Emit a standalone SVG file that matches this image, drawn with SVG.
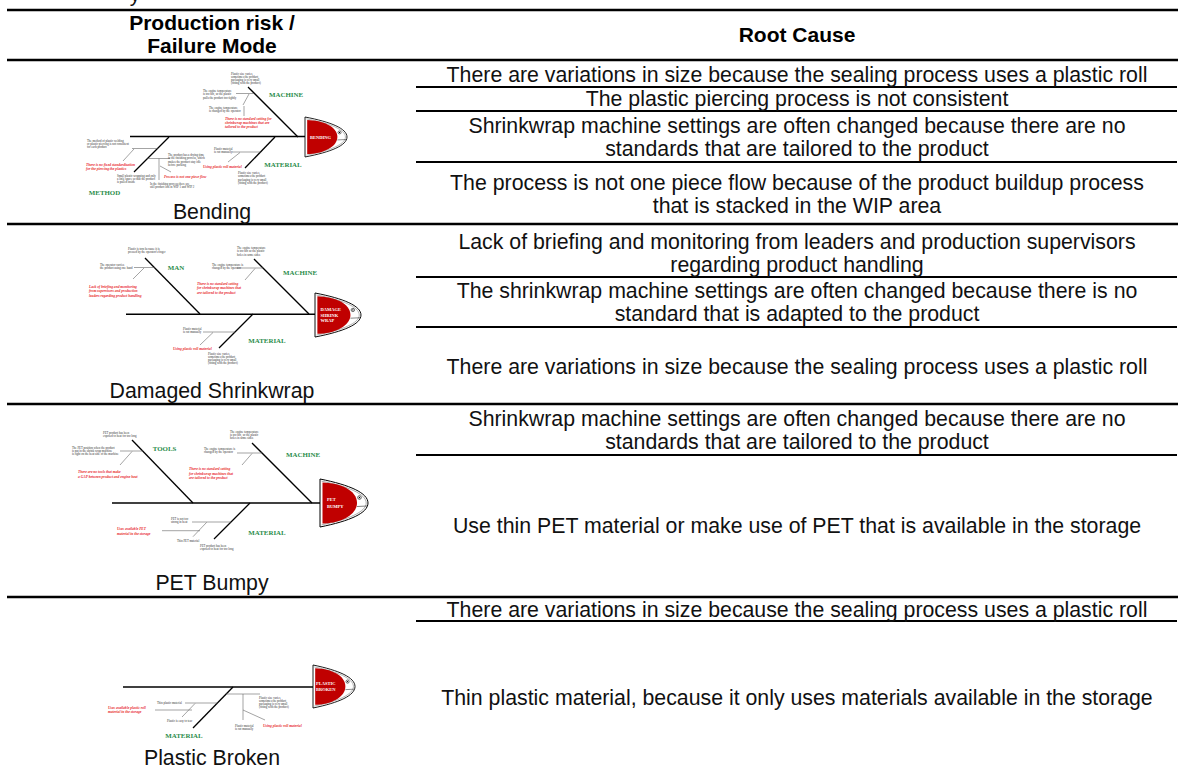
<svg xmlns="http://www.w3.org/2000/svg" xmlns:xlink="http://www.w3.org/1999/xlink" width="1178" height="767" viewBox="0 0 1178 767">
<style>
.hdr{font-family:"Liberation Sans",Arial,sans-serif;font-weight:bold;font-size:21px;text-anchor:middle;fill:#000}
.cell{font-family:"Liberation Sans",Arial,sans-serif;font-size:21.3px;text-anchor:middle;fill:#111}
.rule{stroke:#000;stroke-width:2.7}
.rule2{stroke:#000;stroke-width:2}
.spine{stroke:#000;stroke-width:1.6;fill:none}
.bone{stroke:#000;stroke-width:1.3}
.sub{stroke:#666;stroke-width:0.6}
.cat{font-family:"Liberation Serif","Times New Roman",serif;font-weight:bold;font-size:6.9px;fill:#2a8c4a;text-anchor:middle}
.note{font-family:"Liberation Serif","Times New Roman",serif;font-size:3px;fill:#333}
.red{font-family:"Liberation Serif","Times New Roman",serif;font-style:italic;font-weight:bold;font-size:3.6px;fill:#e8262a}
.ht{font-family:"Liberation Serif","Times New Roman",serif;font-weight:bold;font-size:4.5px;fill:#fff}
</style>
<defs>
<g id="fishhead">
<path d="M0,0 C30,6 48,14 48,24 C48,34 30,42 0,48 Z" fill="#fff" stroke="#000" stroke-width="1"/>
<path d="M1.6,2.2 C28,7.4 46.2,15 46.2,24 C46.2,33 28,40.6 1.6,45.8" fill="none" stroke="#999" stroke-width="0.8"/>
<path d="M2.5,3.5 C20,4 37,11 37,24 C37,36 20,44.5 2.5,44.5 Z" fill="#c00000"/>
<circle cx="39.5" cy="18.5" r="1.8" fill="#fff" stroke="#000" stroke-width="0.6"/>
<circle cx="39.5" cy="18.5" r="0.7" fill="#000"/>
<line x1="37" y1="27.5" x2="47" y2="27" stroke="#000" stroke-width="0.5"/>
</g>
</defs>
<rect width="1178" height="767" fill="#fff"/>
<text class="cell" x="135" y="1">y</text>

<g id="table-rules">
<line class="rule" x1="7" y1="10" x2="1178" y2="10"/>
<line class="rule" x1="7" y1="60" x2="1178" y2="60"/>
<line class="rule2" x1="416" y1="87" x2="1177" y2="87"/>
<line class="rule2" x1="416" y1="111" x2="1177" y2="111"/>
<line class="rule2" x1="416" y1="162" x2="1177" y2="162"/>
<line class="rule" x1="7" y1="224" x2="1178" y2="224"/>
<line class="rule2" x1="416" y1="277" x2="1177" y2="277"/>
<line class="rule2" x1="416" y1="327" x2="1177" y2="327"/>
<line class="rule" x1="7" y1="404" x2="1178" y2="404"/>
<line class="rule2" x1="416" y1="455" x2="1177" y2="455"/>
<line class="rule" x1="7" y1="597" x2="1178" y2="597"/>
<line class="rule2" x1="416" y1="621" x2="1177" y2="621"/>
</g>

<g id="header">
<text class="hdr" x="212" y="30">Production risk /</text>
<text class="hdr" x="212" y="53">Failure Mode</text>
<text class="hdr" x="797" y="42">Root Cause</text>
</g>

<g id="root-causes">
<text class="cell" x="797" y="81.5">There are variations in size because the sealing process uses a plastic roll</text>
<text class="cell" x="797" y="106">The plastic piercing process is not consistent</text>
<text class="cell" x="797" y="133">Shrinkwrap machine settings are often changed because there are no</text>
<text class="cell" x="797" y="156">standards that are tailored to the product</text>
<text class="cell" x="797" y="190">The process is not one piece flow because of the product buildup process</text>
<text class="cell" x="797" y="213">that is stacked in the WIP area</text>
<text class="cell" x="797" y="248.5">Lack of briefing and monitoring from leaders and production supervisors</text>
<text class="cell" x="797" y="271.5">regarding product handling</text>
<text class="cell" x="797" y="297.5">The shrinkwrap machine settings are often changed because there is no</text>
<text class="cell" x="797" y="320.5">standard that is adapted to the product</text>
<text class="cell" x="797" y="373.5">There are variations in size because the sealing process uses a plastic roll</text>
<text class="cell" x="797" y="425.5">Shrinkwrap machine settings are often changed because there are no</text>
<text class="cell" x="797" y="448.5">standards that are tailored to the product</text>
<text class="cell" x="797" y="532.5">Use thin PET material or make use of PET that is available in the storage</text>
<text class="cell" x="797" y="616.5">There are variations in size because the sealing process uses a plastic roll</text>
<text class="cell" x="797" y="704.5">Thin plastic material, because it only uses materials available in the storage</text>
</g>

<!-- Fishbone 1: Bending -->
<g id="fish-bending">
<g id="fish-bending-bones">
<line class="spine" x1="130" y1="136.5" x2="305" y2="136.5"/>
<line class="bone" x1="248" y1="87" x2="298" y2="137"/>
<line class="bone" x1="275" y1="137" x2="245" y2="168"/>
<line class="bone" x1="169" y1="137" x2="134" y2="172"/>
<line class="sub" x1="236" y1="93.5" x2="254" y2="93.5"/>
<line class="sub" x1="243" y1="105" x2="249" y2="94"/>
<line class="sub" x1="244" y1="106" x2="244" y2="116"/>
<line class="sub" x1="232" y1="152" x2="260.5" y2="152"/>
<line class="sub" x1="228" y1="162" x2="240" y2="152.5"/>
<line class="sub" x1="132" y1="148.5" x2="157.5" y2="148.5"/>
<line class="sub" x1="123" y1="161" x2="134" y2="149"/>
<line class="sub" x1="147.5" y1="158.5" x2="170" y2="158.5"/>
<line class="sub" x1="159" y1="158.5" x2="159" y2="180"/>
<line class="sub" x1="160" y1="166" x2="171" y2="172"/>
</g>
<text class="cat" x="286" y="96.5">MACHINE</text>
<text class="cat" x="283" y="166.5">MATERIAL</text>
<text class="cat" x="104.5" y="194.5">METHOD</text>
<text class="note" x="231" y="74.5"><tspan x="231">Plastic size varies,</tspan><tspan x="231" dy="3.3">sometimes the product</tspan><tspan x="231" dy="3.3">packaging is very small</tspan><tspan x="231" dy="3.3">(fitting with the product)</tspan></text>
<text class="note" x="203" y="92"><tspan x="203">The engine temperature</tspan><tspan x="203" dy="3.3">is too hot, so the plastic</tspan><tspan x="203" dy="3.3">pulls the product too tightly</tspan></text>
<text class="note" x="209" y="108.5"><tspan x="209">The engine temperature</tspan><tspan x="209" dy="3.3">is changed by the operator</tspan></text>
<text class="red" x="225" y="119.5"><tspan x="225">There is no standard setting for</tspan><tspan x="225" dy="4">shrinkwrap machines that are</tspan><tspan x="225" dy="4">tailored to the product</tspan></text>
<text class="note" x="214" y="150"><tspan x="214">Plastic material</tspan><tspan x="214" dy="3.3">is cut manually</tspan></text>
<text class="red" x="203" y="168">Using plastic roll material</text>
<text class="note" x="238" y="174"><tspan x="238">Plastic size varies,</tspan><tspan x="238" dy="3.3">sometimes the product</tspan><tspan x="238" dy="3.3">packaging is very small</tspan><tspan x="238" dy="3.3">(fitting with the product)</tspan></text>
<text class="note" x="87" y="141.5"><tspan x="87">The method of plastic welding</tspan><tspan x="87" dy="3.3">or plastic piercing is not consistent</tspan><tspan x="87" dy="3.3">for each product</tspan></text>
<text class="red" x="86" y="165.5"><tspan x="86">There is no fixed standardization</tspan><tspan x="86" dy="4.3">for the piercing the plastics</tspan></text>
<text class="note" x="168" y="156"><tspan x="168">The product has a drying time</tspan><tspan x="168" dy="3.3">in the finishing process, which</tspan><tspan x="168" dy="3.3">makes the product stay idle</tspan><tspan x="168" dy="3.3">before packing</tspan></text>
<text class="red" x="164" y="177.5">Process is not one piece flow</text>
<text class="note" x="117" y="176.5"><tspan x="117">Small plastic wrapping and only</tspan><tspan x="117" dy="3.3">a little space so that the product</tspan><tspan x="117" dy="3.3">is pulled inside</tspan></text>
<text class="note" x="150" y="185"><tspan x="150">In the finishing process there are</tspan><tspan x="150" dy="3.3">still product lots in WIP 1 and WIP 2</tspan></text>
<use xlink:href="#fishhead" transform="translate(305,117) scale(0.875,0.833)"/>
<text class="ht" x="310" y="138.5">BENDING</text>
<text class="cell" x="212" y="219">Bending</text>
</g>

<!-- Fishbone 2: Damaged Shrinkwrap -->
<g id="fish-damaged">
<g id="fish-damaged-bones">
<line class="spine" x1="126" y1="314.3" x2="315" y2="314.3"/>
<line class="bone" x1="145" y1="258" x2="200" y2="314"/>
<line class="bone" x1="254" y1="259" x2="309" y2="314"/>
<line class="bone" x1="253" y1="314" x2="219" y2="348"/>
<line class="sub" x1="134" y1="267.5" x2="154.5" y2="267.5"/>
<line class="sub" x1="133" y1="279" x2="144" y2="268"/>
<line class="sub" x1="237" y1="268" x2="263" y2="268"/>
<line class="sub" x1="245" y1="280" x2="255" y2="268.5"/>
<line class="sub" x1="203" y1="332" x2="235" y2="332"/>
<line class="sub" x1="200" y1="345" x2="213" y2="332.5"/>
</g>
<text class="cat" x="176" y="269.5">MAN</text>
<text class="cat" x="300" y="274.5">MACHINE</text>
<text class="cat" x="267" y="342.5">MATERIAL</text>
<text class="note" x="100" y="266"><tspan x="100">The operator carries</tspan><tspan x="100" dy="3.3">the product using one hand</tspan></text>
<text class="note" x="128" y="249.5"><tspan x="128">Plastic is torn because it is</tspan><tspan x="128" dy="3.3">pressed by the operator's finger</tspan></text>
<text class="red" x="89" y="287.5"><tspan x="89">Lack of briefing and monitoring</tspan><tspan x="89" dy="4.7">from supervisors and production</tspan><tspan x="89" dy="4.7">leaders regarding product handling</tspan></text>
<text class="note" x="212" y="265.5"><tspan x="212">The engine temperature is</tspan><tspan x="212" dy="3.3">changed by the operator</tspan></text>
<text class="note" x="237" y="249"><tspan x="237">The engine temperature</tspan><tspan x="237" dy="3.3">is too hot so the plastic</tspan><tspan x="237" dy="3.3">holes in some sides</tspan></text>
<text class="red" x="197" y="284.5"><tspan x="197">There is no standard setting</tspan><tspan x="197" dy="4.7">for shrinkwrap machines that</tspan><tspan x="197" dy="4.7">are tailored to the product</tspan></text>
<text class="note" x="183" y="330"><tspan x="183">Plastic material</tspan><tspan x="183" dy="3.3">is cut manually</tspan></text>
<text class="red" x="173" y="349.5">Using plastic roll material</text>
<text class="note" x="208" y="354.5"><tspan x="208">Plastic size varies,</tspan><tspan x="208" dy="3.3">sometimes the product</tspan><tspan x="208" dy="3.3">packaging is very small</tspan><tspan x="208" dy="3.3">(fitting with the product)</tspan></text>
<use xlink:href="#fishhead" transform="translate(315,293) scale(0.958,0.917)"/>
<text class="ht" x="320.5" y="311"><tspan x="320.5">DAMAGE</tspan><tspan x="320.5" dy="5.7">SHRINK</tspan><tspan x="320.5" dy="5.7">WRAP</tspan></text>
<text class="cell" x="212" y="398">Damaged Shrinkwrap</text>
</g>

<!-- Fishbone 3: PET Bumpy -->
<g id="fish-pet">
<g id="fish-pet-bones">
<line class="spine" x1="112" y1="503" x2="320" y2="503"/>
<line class="bone" x1="132" y1="440" x2="193" y2="503"/>
<line class="bone" x1="252" y1="443" x2="312" y2="503"/>
<line class="bone" x1="250" y1="503" x2="214" y2="539"/>
<line class="sub" x1="120" y1="451" x2="143" y2="451"/>
<line class="sub" x1="120" y1="465" x2="132" y2="451.5"/>
<line class="sub" x1="237" y1="453" x2="262" y2="453"/>
<line class="sub" x1="242" y1="465" x2="252" y2="453.5"/>
<line class="sub" x1="192" y1="522" x2="231" y2="522"/>
<line class="sub" x1="162" y1="530.7" x2="200" y2="530.7"/>
<line class="sub" x1="193" y1="536.7" x2="206.7" y2="522.3"/>
</g>
<text class="cat" x="164.5" y="450.5">TOOLS</text>
<text class="cat" x="303" y="456.5">MACHINE</text>
<text class="cat" x="267" y="534.5">MATERIAL</text>
<text class="note" x="72" y="448.5"><tspan x="72">The PET position when the product</tspan><tspan x="72" dy="3.3">is put in the shrink wrap machine</tspan><tspan x="72" dy="3.3">is right on the heat side of the machine</tspan></text>
<text class="note" x="103" y="433.5"><tspan x="103">PET product has been</tspan><tspan x="103" dy="3.3">exposed to heat for too long</tspan></text>
<text class="red" x="78" y="473"><tspan x="78">There are no tools that make</tspan><tspan x="78" dy="4.5">a GAP between product and engine heat</tspan></text>
<text class="note" x="204" y="450"><tspan x="204">The engine temperature is</tspan><tspan x="204" dy="3.3">changed by the operator</tspan></text>
<text class="note" x="230" y="432.5"><tspan x="230">The engine temperature</tspan><tspan x="230" dy="3.3">is too hot, so the plastic</tspan><tspan x="230" dy="3.3">holes in some sides</tspan></text>
<text class="red" x="189" y="470"><tspan x="189">There is no standard setting</tspan><tspan x="189" dy="4.5">for shrinkwrap machines that</tspan><tspan x="189" dy="4.5">are tailored to the product</tspan></text>
<text class="note" x="171" y="519.5"><tspan x="171">PET is not too</tspan><tspan x="171" dy="3.3">strong in heat</tspan></text>
<text class="note" x="177" y="542">Thin PET material</text>
<text class="note" x="200" y="546.5"><tspan x="200">PET product has been</tspan><tspan x="200" dy="3.3">exposed to heat for too long</tspan></text>
<text class="red" x="117" y="530"><tspan x="117">Uses available PET</tspan><tspan x="117" dy="4.8">material in the storage</tspan></text>
<use xlink:href="#fishhead" transform="translate(320,479)"/>
<text class="ht" x="327" y="500.5"><tspan x="327">PET</tspan><tspan x="327" dy="7">BUMPY</tspan></text>
<text class="cell" x="212" y="590">PET Bumpy</text>
</g>

<!-- Fishbone 4: Plastic Broken -->
<g id="fish-plastic">
<g id="fish-plastic-bones">
<line class="spine" x1="123" y1="687" x2="313" y2="687"/>
<line class="bone" x1="233" y1="687" x2="193" y2="728"/>
<line class="sub" x1="185" y1="703" x2="217.5" y2="703"/>
<line class="sub" x1="155" y1="710" x2="192" y2="710"/>
<line class="sub" x1="182" y1="717" x2="195" y2="703.5"/>
<line class="sub" x1="226" y1="694" x2="260" y2="694"/>
<line class="sub" x1="243" y1="694" x2="243" y2="720"/>
<line class="sub" x1="243" y1="710" x2="265" y2="720"/>
</g>
<text class="cat" x="184" y="737.5">MATERIAL</text>
<text class="note" x="157" y="704">Thin plastic material</text>
<text class="red" x="108" y="708.5"><tspan x="108">Uses available plastic roll</tspan><tspan x="108" dy="4.5">material in the storage</tspan></text>
<text class="note" x="167" y="722">Plastic is easy to tear</text>
<text class="note" x="259" y="698.5"><tspan x="259">Plastic size varies,</tspan><tspan x="259" dy="3.3">sometimes the product</tspan><tspan x="259" dy="3.3">packaging is very small</tspan><tspan x="259" dy="3.3">(fitting with the product)</tspan></text>
<text class="note" x="235" y="726.5"><tspan x="235">Plastic material</tspan><tspan x="235" dy="3.3">is cut manually</tspan></text>
<text class="red" x="263" y="727">Using plastic roll material</text>
<use xlink:href="#fishhead" transform="translate(313,665) scale(0.875,0.896)"/>
<text class="ht" x="316" y="684.5"><tspan x="316">PLASTIC</tspan><tspan x="316" dy="6">BROKEN</tspan></text>
<text class="cell" x="212" y="765">Plastic Broken</text>
</g>
</svg>
